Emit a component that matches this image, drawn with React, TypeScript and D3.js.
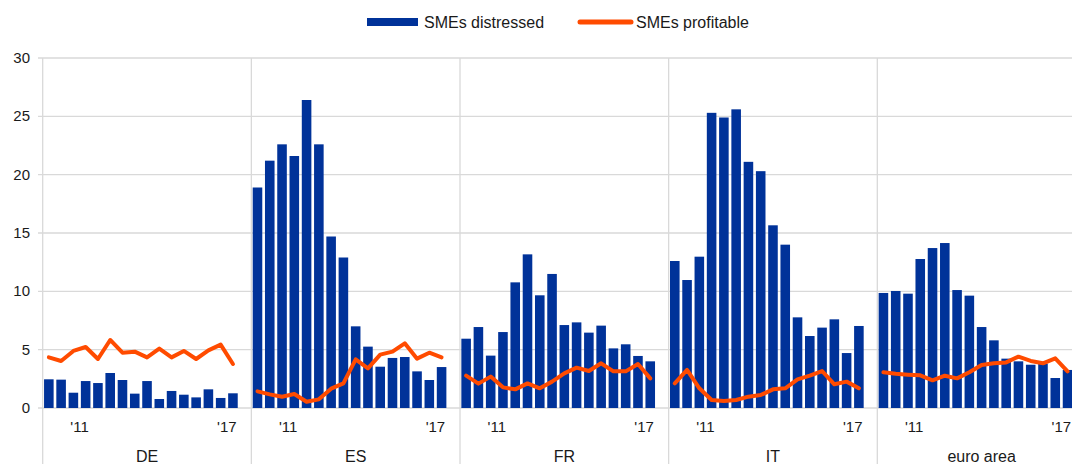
import React from "react";
import * as d3 from "d3";

const panels = ["DE", "ES", "FR", "IT", "euro area"];
const periods = [
  "2010H1", "2010H2", "2011H1", "2011H2", "2012H1", "2012H2", "2013H1", "2013H2",
  "2014H1", "2014H2", "2015H1", "2015H2", "2016H1", "2016H2", "2017H1", "2017H2", "gap",
];
const yearTicks = [
  { label: "'11", from: "2011H1", to: "2011H2" },
  { label: "'17", from: "2017H1", to: "2017H2" },
];
const yTicks = [0, 5, 10, 15, 20, 25, 30];

const distressedDE = [2.46, 2.43, 1.31, 2.31, 2.14, 3.0, 2.4, 1.23, 2.31, 0.77, 1.46, 1.14, 0.91, 1.6, 0.86, 1.26];
const distressedES = [18.9, 21.2, 22.6, 21.6, 26.4, 22.6, 14.7, 12.9, 7.0, 5.26, 3.54, 4.29, 4.37, 3.14, 2.4, 3.51];
const distressedFR = [5.94, 6.94, 4.49, 6.51, 10.77, 13.17, 9.66, 11.49, 7.11, 7.34, 6.46, 7.06, 5.11, 5.46, 4.46, 4.0];
const distressedIT = [12.6, 10.97, 12.97, 25.3, 24.9, 25.6, 21.1, 20.3, 15.66, 14.0, 7.77, 6.17, 6.89, 7.6, 4.71, 7.03];
const distressedEA = [9.86, 10.03, 9.8, 12.77, 13.71, 14.14, 10.11, 9.63, 6.94, 5.8, 4.23, 4.0, 3.71, 3.8, 2.57, 3.26];

const profitableDE = [4.34, 4.03, 4.89, 5.23, 4.2, 5.83, 4.74, 4.83, 4.34, 5.09, 4.34, 4.89, 4.2, 4.94, 5.43, 3.77];
const profitableES = [1.43, 1.17, 0.97, 1.2, 0.54, 0.74, 1.66, 2.11, 4.17, 3.4, 4.57, 4.83, 5.54, 4.23, 4.74, 4.34];
const profitableFR = [2.77, 2.09, 2.69, 1.77, 1.6, 2.11, 1.69, 2.26, 2.97, 3.46, 3.17, 3.83, 3.14, 3.14, 3.77, 2.54];
const profitableIT = [2.11, 3.26, 1.69, 0.69, 0.6, 0.69, 0.97, 1.11, 1.6, 1.69, 2.46, 2.77, 3.17, 2.03, 2.26, 1.69];
const profitableEA = [3.06, 2.94, 2.86, 2.8, 2.37, 2.77, 2.54, 3.06, 3.69, 3.83, 3.91, 4.4, 4.03, 3.83, 4.26, 3.14];

const distressed = [distressedDE, distressedES, distressedFR, distressedIT, distressedEA];
const profitable = [profitableDE, profitableES, profitableFR, profitableIT, profitableEA];

const W = 1072;
const H = 464;
const x0 = 42.7;
const panelW = 208.65;
const top = 58;
const bottom = 408;
const BLUE = "#003299";
const ORANGE = "#FF4B00";
const GRID = "#d9d9d9";
const FONT = "'Liberation Sans', Arial, sans-serif";
const TEXT = "#1a1a1a";

export default function App() {
  const y = d3.scaleLinear().domain([0, 30]).range([bottom, top]);
  const outer = d3.scaleBand<string>().domain(panels).range([x0, x0 + panelW * panels.length]);
  const line = d3.line<number>().y((d) => y(d)).curve(d3.curveLinear);

  return (
    <svg width={W} height={H} style={{ position: "absolute", left: 0, top: 0, background: "#fff" }} fontFamily={FONT}>
      {/* legend */}
      <rect x={367} y={18} width={51} height={8} fill={BLUE} />
      <text x={424} y={27.5} fontSize={16} fill={TEXT}>SMEs distressed</text>
      <line x1={580} x2={631} y1={22} y2={22} stroke={ORANGE} strokeWidth={5} strokeLinecap="round" />
      <text x={636} y={27.5} fontSize={16} fill={TEXT}>SMEs profitable</text>

      {/* horizontal grid */}
      {yTicks.map((t) => (
        <g key={t}>
          <line x1={38} x2={W} y1={y(t)} y2={y(t)} stroke={GRID} strokeWidth={1.3} />
          <text x={30} y={y(t) + 5} textAnchor="end" fontSize={15} fill={TEXT}>{t}</text>
        </g>
      ))}

      {panels.map((p, i) => {
        const px = outer(p)!;
        const xb = d3.scaleBand<string>().domain(periods).range([px, px + panelW]).paddingInner(0.22).paddingOuter(0.11);
        const bw = xb.bandwidth();
        const cx = (k: number) => xb(periods[k])! + bw / 2;
        const lp = line.x((_, k) => cx(k));
        return (
          <g key={p}>
            <line x1={px} x2={px} y1={top} y2={H} stroke={GRID} strokeWidth={1.3} />
            {distressed[i].map((v, k) => (
              <rect key={k} x={xb(periods[k])} y={y(v)} width={bw} height={y(0) - y(v)} fill={BLUE} />
            ))}
            <path d={lp(profitable[i]) || ""} fill="none" stroke={ORANGE} strokeWidth={4} strokeLinejoin="round" strokeLinecap="round" />
            {yearTicks.map((t) => {
              const xm = (xb(t.from)! + xb(t.to)! + bw) / 2;
              return (
                <text key={t.label} x={xm} y={432} textAnchor="middle" fontSize={15} fill={TEXT}>{t.label}</text>
              );
            })}
            <text x={px + panelW / 2} y={462} textAnchor="middle" fontSize={16} fill={TEXT}>{p}</text>
          </g>
        );
      })}
    </svg>
  );
}
